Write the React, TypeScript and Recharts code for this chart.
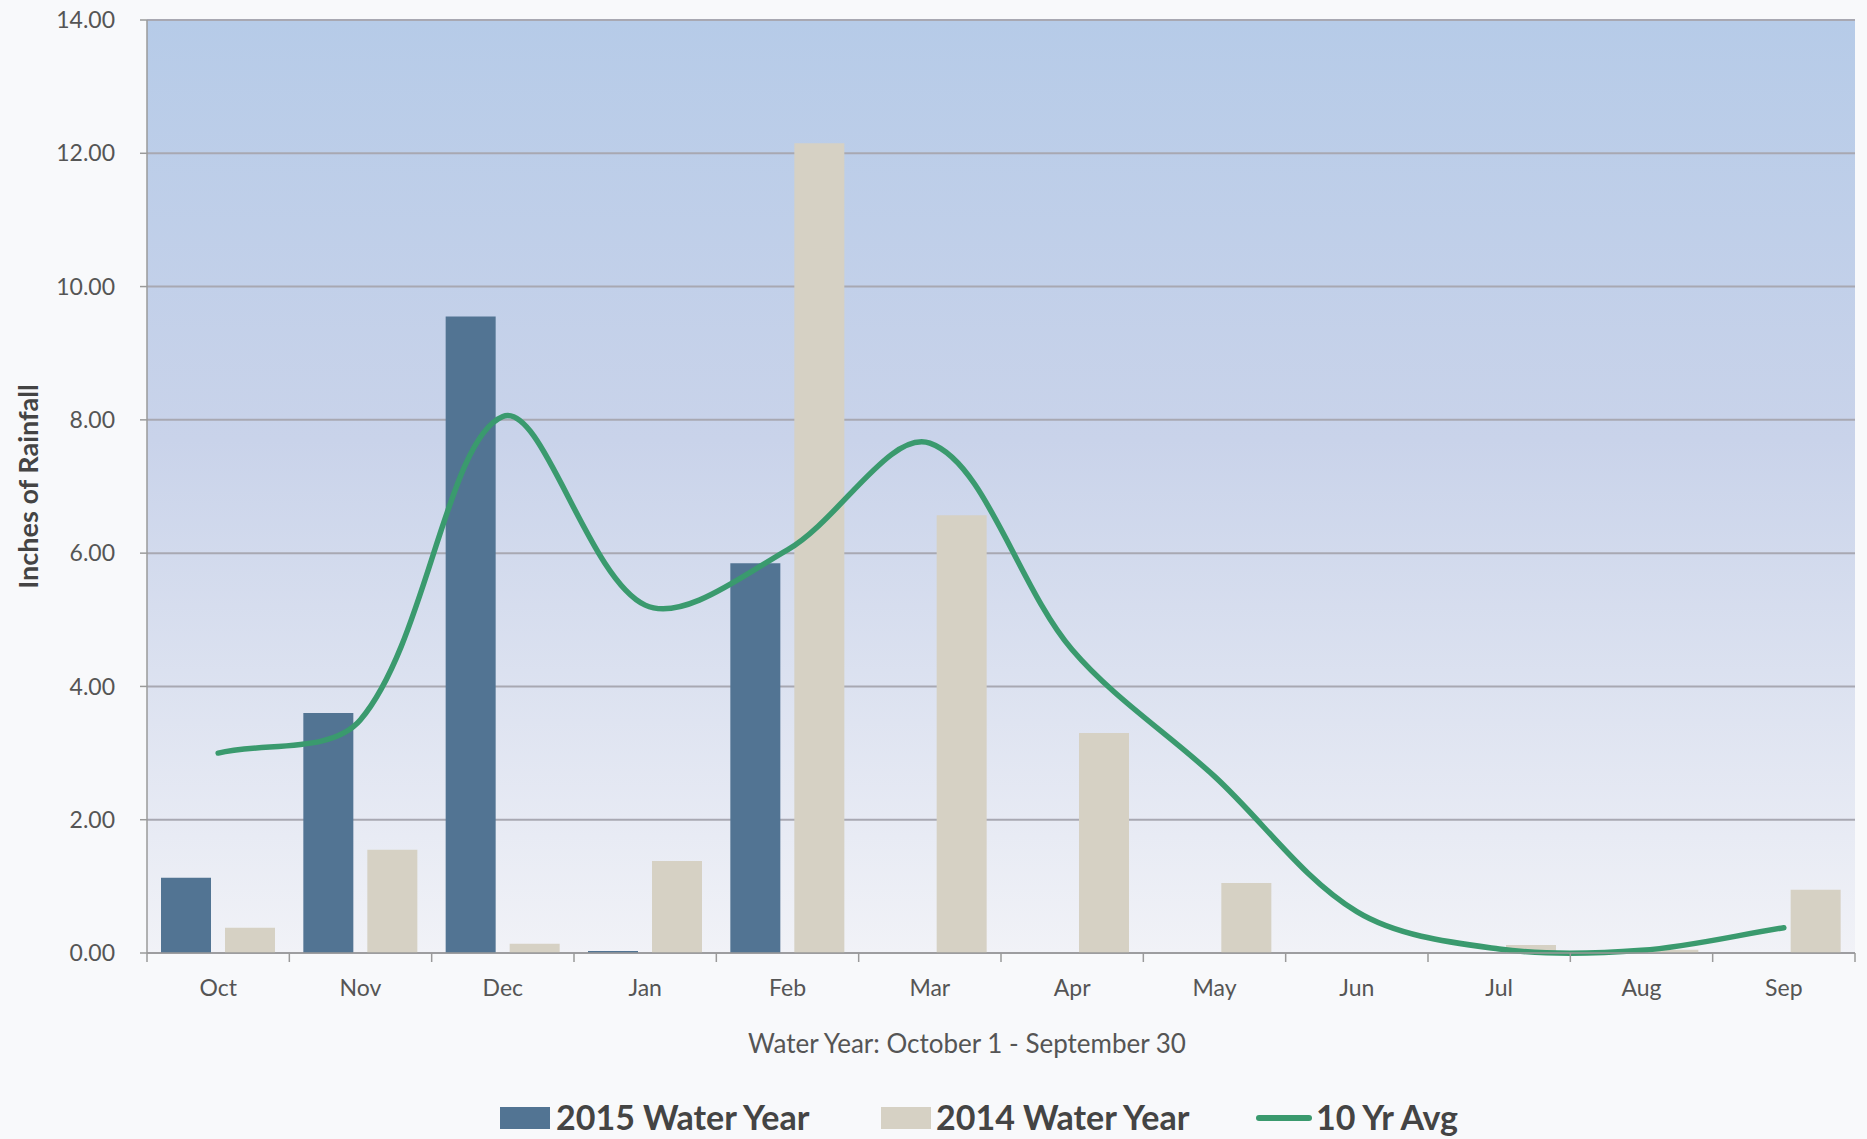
import {
  ComposedChart,
  Bar,
  Line,
  XAxis,
  YAxis,
  CartesianGrid,
  Legend,
} from "recharts";

const months = ["Oct", "Nov", "Dec", "Jan", "Feb", "Mar", "Apr", "May", "Jun", "Jul", "Aug", "Sep"];
const wy2015 = [1.13, 3.6, 9.55, 0.03, 5.85, 0, 0, 0, 0, 0, 0, 0];
const wy2014 = [0.38, 1.55, 0.14, 1.38, 12.15, 6.57, 3.3, 1.05, 0, 0.12, 0.05, 0.95];
const tenYrAvg = [3.0, 3.5, 8.05, 5.22, 6.05, 7.65, 4.55, 2.65, 0.62, 0.06, 0.04, 0.38];
const yTicks = [0, 2, 4, 6, 8, 10, 12, 14];

const BLUE = "#527493";
const BEIGE = "#d6d1c4";
const GREEN = "#3a9a6e";
const FONT = "Lato, 'Open Sans', sans-serif";

const W = 1867;
const H = 1139;
const PLOT_LEFT = 147;
const PLOT_RIGHT = 1855;

const data = months.map((m, i) => ({
  month: m,
  wy2015: wy2015[i],
  wy2014: wy2014[i],
  avg: tenYrAvg[i],
}));

const band = (PLOT_RIGHT - PLOT_LEFT) / months.length;

// Excel-style smoothed line: Bezier through the points, tangents weighted by chord length
function smoothCurve(context: any) {
  let pts: number[][] = [];
  const dist = (a: number[], b: number[]) => Math.hypot(b[0] - a[0], b[1] - a[1]);
  return {
    areaStart() {},
    areaEnd() {},
    lineStart() {
      pts = [];
    },
    point(x: number, y: number) {
      pts.push([+x, +y]);
    },
    lineEnd() {
      if (!pts.length) return;
      context.moveTo(pts[0][0], pts[0][1]);
      for (let i = 0; i < pts.length - 1; i++) {
        const p0 = pts[i - 1] || pts[i];
        const p1 = pts[i];
        const p2 = pts[i + 1];
        const p3 = pts[i + 2] || p2;
        const d01 = dist(p0, p1);
        const d12 = dist(p1, p2);
        const d23 = dist(p2, p3);
        const f1 = d12 / (3 * (d01 + d12));
        const f2 = d12 / (3 * (d12 + d23));
        context.bezierCurveTo(
          p1[0] + (p2[0] - p0[0]) * f1,
          p1[1] + (p2[1] - p0[1]) * f1,
          p2[0] - (p3[0] - p1[0]) * f2,
          p2[1] - (p3[1] - p1[1]) * f2,
          p2[0],
          p2[1]
        );
      }
    },
  };
}

function MonthTick(props: any) {
  const { x, y, payload, index } = props;
  return (
    <g>
      <line x1={x - band / 2} x2={x - band / 2} y1={y} y2={y + 9} stroke="#9a9a9a" strokeWidth={1.5} />
      {index === months.length - 1 && (
        <line x1={x + band / 2} x2={x + band / 2} y1={y} y2={y + 9} stroke="#9a9a9a" strokeWidth={1.5} />
      )}
      <text x={x} y={y + 34} textAnchor="middle" dominantBaseline="central" fill="#555" fontSize={23} fontFamily={FONT}>
        {payload.value}
      </text>
    </g>
  );
}

function YLabel(props: any) {
  const vb = props.viewBox || { y: 20, height: 933 };
  const cy = vb.y + vb.height / 2;
  return (
    <text
      x={27}
      y={cy}
      transform={`rotate(-90, 27, ${cy})`}
      textAnchor="middle"
      dominantBaseline="central"
      fill="#444"
      fontSize={27}
      fontWeight="bold"
      fontFamily={FONT}
    >
      Inches of Rainfall
    </text>
  );
}

function XLabel() {
  return (
    <text x={967} y={1043} textAnchor="middle" dominantBaseline="central" fill="#555" fontSize={26} fontFamily={FONT}>
      Water Year: October 1 - September 30
    </text>
  );
}

function LegendContent() {
  const text = {
    position: "absolute" as const,
    top: 0,
    fontSize: 34,
    fontWeight: 700,
    color: "#444",
    fontFamily: FONT,
    lineHeight: "44px",
    whiteSpace: "nowrap" as const,
  };
  return (
    <div style={{ position: "relative", height: 44, width: W }}>
      <div style={{ position: "absolute", left: 500, top: 12, width: 50, height: 22, background: BLUE }} />
      <div style={{ ...text, left: 556 }}>2015 Water Year</div>
      <div style={{ position: "absolute", left: 881, top: 12, width: 50, height: 22, background: BEIGE }} />
      <div style={{ ...text, left: 936 }}>2014 Water Year</div>
      <div style={{ position: "absolute", left: 1256, top: 20, width: 56, height: 6, borderRadius: 3, background: GREEN }} />
      <div style={{ ...text, left: 1316 }}>10 Yr Avg</div>
    </div>
  );
}

export default function App() {
  return (
    <div style={{ width: W, height: H, background: "#f8f9fb" }}>
      <style>{`body{margin:0;background:#f8f9fb}`}</style>
      <ComposedChart
        width={W}
        height={H}
        data={data}
        margin={{ top: 20, right: W - PLOT_RIGHT, bottom: 0, left: 0 }}
        barSize={50}
        barGap={14}
      >
        <defs>
          <linearGradient id="plotBg" x1="0" y1="0" x2="0" y2="1">
            <stop offset="0%" stopColor="#b6cbe8" />
            <stop offset="45%" stopColor="#c9d3ea" />
            <stop offset="100%" stopColor="#f1f2f7" />
          </linearGradient>
        </defs>
        <CartesianGrid vertical={false} fill="url(#plotBg)" stroke="#a8a8b2" strokeWidth={2} />
        <XAxis
          dataKey="month"
          height={142}
          tickLine={false}
          tickSize={0}
          tickMargin={0}
          tick={<MonthTick />}
          interval={0}
          stroke="#9a9a9a"
          strokeWidth={1.5}
          label={<XLabel />}
        />
        <YAxis
          width={PLOT_LEFT}
          domain={[0, 14]}
          ticks={yTicks}
          tickFormatter={(v: number) => v.toFixed(2)}
          tick={{ fill: "#555", fontSize: 23, fontFamily: FONT }}
          tickSize={7}
          tickMargin={25}
          stroke="#9a9a9a"
          strokeWidth={1.5}
          label={<YLabel />}
        />
        <Legend verticalAlign="bottom" height={44} content={<LegendContent />} />
        <Bar dataKey="wy2015" name="2015 Water Year" fill={BLUE} isAnimationActive={false} />
        <Bar dataKey="wy2014" name="2014 Water Year" fill={BEIGE} isAnimationActive={false} />
        <Line
          dataKey="avg"
          name="10 Yr Avg"
          type={smoothCurve as any}
          stroke={GREEN}
          strokeWidth={5.5}
          strokeLinecap="round"
          dot={false}
          activeDot={false}
          isAnimationActive={false}
        />
      </ComposedChart>
    </div>
  );
}
